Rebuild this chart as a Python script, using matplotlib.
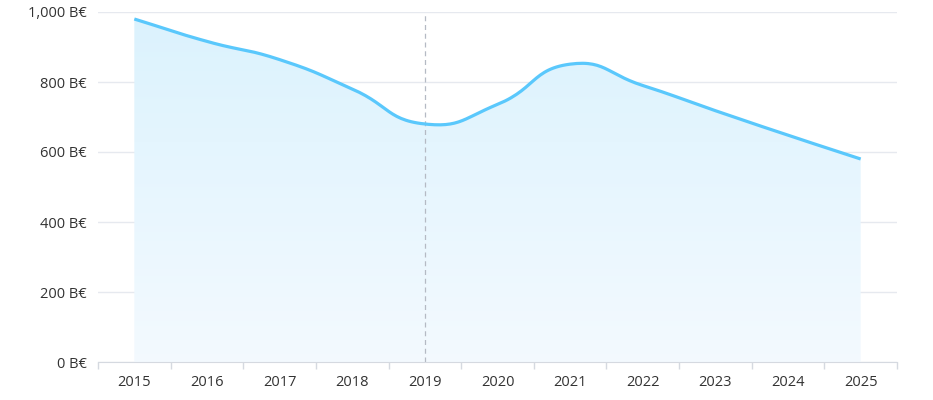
import numpy as np
import matplotlib.pyplot as plt
from matplotlib.patches import Polygon

years = ["2015", "2016", "2017", "2018", "2019", "2020", "2021", "2022", "2023", "2024", "2025"]
values = [980, 916, 864, 780, 680, 736, 851, 790, 718, 648, 580]
y_ticks = [0, 200, 400, 600, 800, 1000]
y_labels = ["0 B€", "200 B€", "400 B€", "600 B€", "800 B€", "1,000 B€"]
pointer_year = "2019"

LINE = "#5ac8fc"
GRID = "#e6e9ef"
TEXT = "#333333"

plt.rcParams['font.family'] = ['Open Sans', 'DejaVu Sans']


def smooth_curve(px, py, smooth=0.5, steps=30):
    """Cubic bezier through the points, control points built like a chart lib's smooth line."""
    n = len(px)
    pts = np.column_stack([px, py])
    cps = []
    for i in range(n):
        cur = pts[i]
        prev = pts[i - 1] if i > 0 else cur
        nxt = pts[i + 1] if i < n - 1 else cur
        v = nxt - prev
        d0 = np.hypot(*(cur - prev))
        d1 = np.hypot(*(cur - nxt))
        s = d0 + d1
        if s == 0:
            cps.append((cur, cur))
            continue
        cps.append((cur - v * smooth * d0 / s, cur + v * smooth * d1 / s))
    out = [pts[0]]
    t = np.linspace(0, 1, steps)[1:, None]
    for i in range(n - 1):
        p0, p3 = pts[i], pts[i + 1]
        p1, p2 = cps[i][1], cps[i + 1][0]
        seg = ((1 - t) ** 3) * p0 + 3 * ((1 - t) ** 2) * t * p1 + 3 * (1 - t) * t ** 2 * p2 + t ** 3 * p3
        out.extend(seg)
    return np.array(out)


fig = plt.figure(figsize=(9.33, 4.0), dpi=100)
ax = fig.add_axes([98 / 933, 38 / 400, 799 / 933, 350 / 400])

x = np.arange(len(years))
ax.set_xlim(-0.5, len(years) - 0.5)
ax.set_ylim(0, 1000)

# smooth in pixel-like units so the curve shape matches the screen
sx, sy = 799 / len(years), 0.35
curve = smooth_curve(x * sx, np.array(values) * sy)
cx, cy = curve[:, 0] / sx, curve[:, 1] / sy

# gradient area under the curve
poly = Polygon(np.vstack([np.column_stack([cx, cy]), [[cx[-1], 0], [cx[0], 0]]]),
               closed=True, facecolor="none", edgecolor="none")
ax.add_patch(poly)
top_c = np.array([0.86, 0.95, 0.995])
bot_c = np.array([0.955, 0.98, 0.998])
g = np.linspace(0, 1, 256)[:, None]
grad = (top_c * (1 - g) + bot_c * g)[:, None, :]
img = ax.imshow(grad, extent=[cx[0], cx[-1], 0, max(values)], origin="upper",
                aspect="auto", zorder=1)
img.set_clip_path(poly)

ax.plot(cx, cy, color=LINE, lw=2.3, zorder=4, solid_capstyle="butt")

# axis pointer at the hovered year
px = years.index(pointer_year)
ax.axvline(px, color="#b5bac4", lw=0.9, ls=(0, (4, 3)), zorder=3)

ax.set_yticks(y_ticks)
ax.set_yticklabels(y_labels)
ax.yaxis.grid(True, color=GRID, lw=1)
ax.set_axisbelow(True)

ax.set_xticks(np.arange(-0.5, len(years), 1.0))
ax.set_xticklabels([])
ax.set_xticks(x, minor=True)
ax.set_xticklabels(years, minor=True)
ax.tick_params(axis="x", which="major", length=5, color="#d5d9e0", width=1)
ax.tick_params(axis="x", which="minor", length=0, pad=9, labelsize=10.5, labelcolor=TEXT)
ax.tick_params(axis="y", length=0, pad=8, labelsize=10.5, labelcolor=TEXT)

for side in ["top", "right", "left"]:
    ax.spines[side].set_visible(False)
ax.spines["bottom"].set_color("#d5d9e0")

fig.savefig("out.png", dpi=100)
